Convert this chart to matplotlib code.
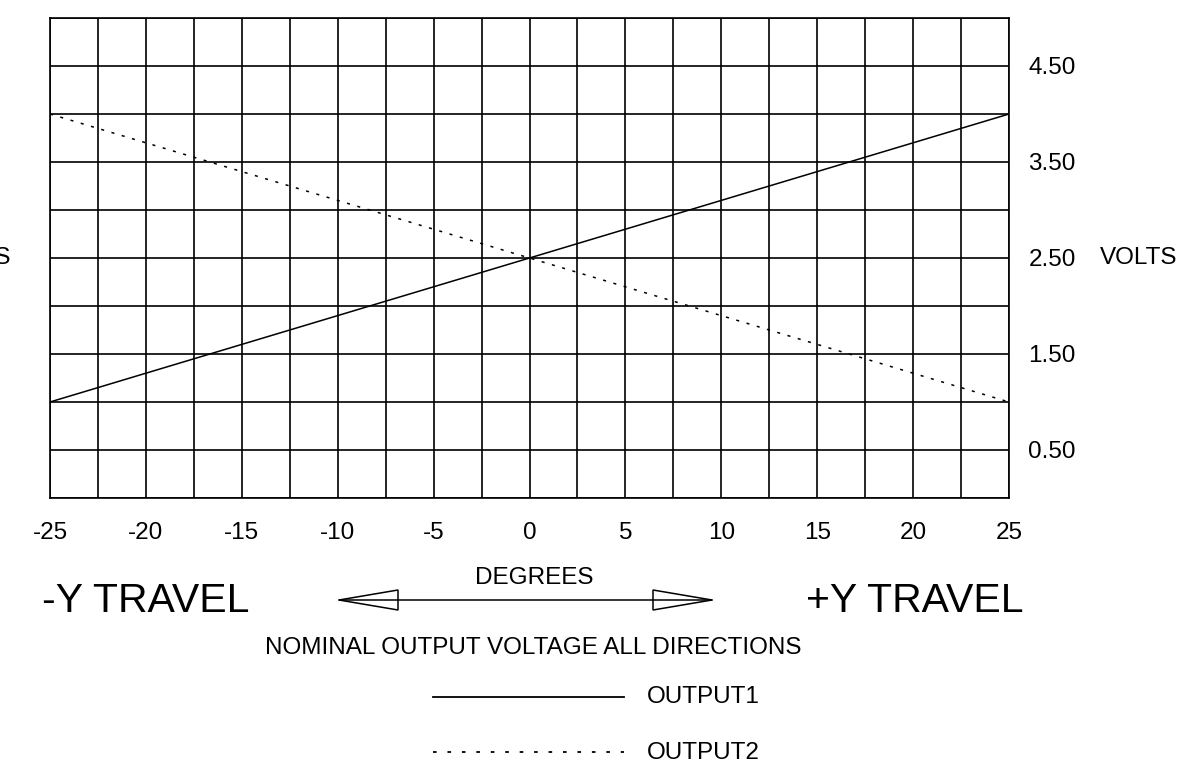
import numpy as np
import matplotlib
matplotlib.use('Agg')
import matplotlib.pyplot as plt
from matplotlib.lines import Line2D
from matplotlib.patches import Polygon

plt.rcParams['font.family'] = ['Liberation Sans', 'DejaVu Sans']
plt.rcParams['axes.unicode_minus'] = False

# dane
degrees = [-25, 25]
output1 = [1.0, 4.0]
output2 = [4.0, 1.0]
x_ticks = [-25, -20, -15, -10, -5, 0, 5, 10, 15, 20, 25]
y_ticks = [0.5, 1.5, 2.5, 3.5, 4.5]
y_labels = ['0.50', '1.50', '2.50', '3.50', '4.50']

W, H = 1184, 761
fs = 17.5
fig = plt.figure(figsize=(W / 100, H / 100), dpi=100)

def px(x, y):
    # piksele -> wspolrzedne figury
    return x / W, 1 - y / H

ax = fig.add_axes([50 / W, 1 - 498 / H, 959 / W, 480 / H])
ax.set_xlim(-25, 25)
ax.set_ylim(0, 5)

ax.plot(degrees, output1, color='black', lw=1.1)
ax.plot(degrees, output2, color='black', lw=1.1, dashes=(2, 5))

ax.set_xticks(x_ticks)
ax.set_xticks(np.arange(-22.5, 25, 5), minor=True)
ax.set_yticks(y_ticks)
ax.set_yticklabels(y_labels)
ax.set_yticks(np.arange(0, 5.01, 1), minor=True)
ax.yaxis.tick_right()
ax.grid(True, which='both', color='black', lw=1.2)
ax.tick_params(which='both', length=0)
ax.tick_params(axis='x', pad=17, labelsize=fs)
ax.tick_params(axis='y', pad=14, labelsize=fs)
for s in ax.spines.values():
    s.set_linewidth(1.2)

# etykiety osi (lewa jest uciete na krawedzi jak w oryginale)
fig.text(*px(11, 258), 'VOLTS', fontsize=fs, ha='right', va='center')
fig.text(*px(1100, 258), 'VOLTS', fontsize=fs, ha='left', va='center')
fig.text(*px(534, 578), 'DEGREES', fontsize=fs, ha='center', va='center')
fig.text(*px(146, 601), '-Y TRAVEL', fontsize=29.5, ha='center', va='center')
fig.text(*px(915, 601), '+Y TRAVEL', fontsize=29.5, ha='center', va='center')
fig.text(*px(533, 648), 'NOMINAL OUTPUT VOLTAGE ALL DIRECTIONS', fontsize=fs,
         ha='center', va='center')

# strzalka
fig.add_artist(Line2D([339 / W, 712 / W], [1 - 600 / H] * 2, color='black', lw=1.1))
for tip, base in [(339, 398), (712, 653)]:
    pts = [px(tip, 600), px(base, 590), px(base, 610)]
    fig.add_artist(Polygon(pts, closed=True, facecolor='white', edgecolor='black', lw=1.1))

# legenda
fig.add_artist(Line2D([433 / W, 624 / W], [1 - 697 / H] * 2, color='black', lw=1.3))
fig.text(*px(647, 697), 'OUTPUT1', fontsize=fs, ha='left', va='center')
fig.add_artist(Line2D([433 / W, 624 / W], [1 - 752 / H] * 2, color='black', lw=1.3,
                      dashes=(2, 6)))
fig.text(*px(647, 753), 'OUTPUT2', fontsize=fs, ha='left', va='center')

fig.savefig('out.png', dpi=100)
